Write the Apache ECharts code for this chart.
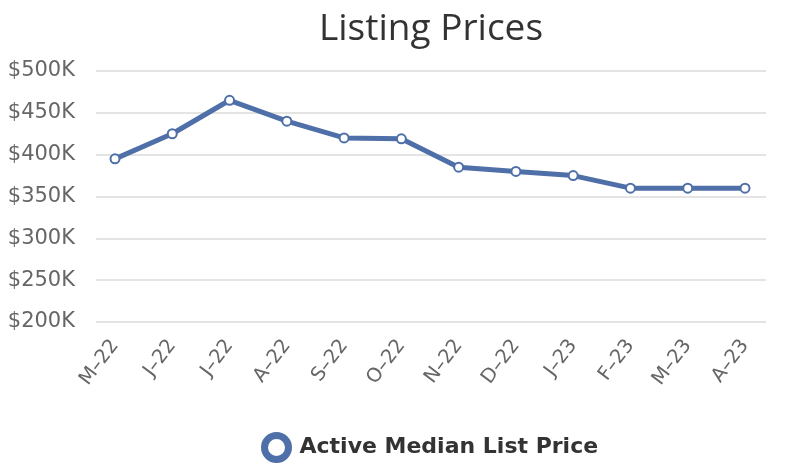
<!DOCTYPE html>
<html><head><meta charset="utf-8">
<script src="https://cdn.jsdelivr.net/npm/echarts@6/dist/echarts.min.js"></script>
<style>html,body{margin:0;padding:0;background:#fff}#c{width:788px;height:466px}</style>
</head><body><div id="c"></div>
<script>
const categories = ['M–22','J–22','J–22','A–22','S–22','O–22','N–22','D–22','J–23','F–23','M–23','A–23'];
const prices = [395000,425000,465000,440000,420000,419000,385000,380000,375000,360000,360000,360000];
const seriesName = 'Active Median List Price';
const yMin = 200000, yMax = 500000, yStep = 50000;
const lineColor = '#4f6fa8';
const FONT = 'DejaVu Sans';

const chart = echarts.init(document.getElementById('c'));
chart.setOption({
  animation: false,
  textStyle: { fontFamily: FONT },
  title: {
    text: 'Listing Prices', left: 426, top: 6, textAlign: 'center',
    textStyle: { fontFamily: 'Open Sans', fontSize: 37, fontWeight: 'normal', color: '#333' }
  },
  legend: {
    top: 432, left: 261, padding: 0,
    itemWidth: 24, itemHeight: 24,
    data: [{ name: seriesName, icon: 'circle',
      itemStyle: { color: '#fff', borderColor: lineColor, borderWidth: 7 } }],
    textStyle: { fontFamily: FONT, fontSize: 22, fontWeight: 'bold', color: '#333', padding: [0, 0, 0, 6] }
  },
  grid: [
    { left: 96, right: 22, top: 71, bottom: 144 },
    { left: 115, right: 43, top: 71, bottom: 144 }
  ],
  xAxis: [
    { gridIndex: 0, type: 'category', data: categories, show: false },
    { gridIndex: 1, type: 'category', data: categories, boundaryGap: false,
      axisLine: { show: false }, axisTick: { show: false }, splitLine: { show: false },
      axisLabel: { rotate: 53, margin: 20, color: '#666', fontSize: 19.5, fontFamily: FONT, interval: 0 } }
  ],
  yAxis: [
    { gridIndex: 0, type: 'value', min: yMin, max: yMax, interval: yStep,
      axisLine: { show: false }, axisTick: { show: false },
      axisLabel: { margin: 21, color: '#666', fontSize: 21, fontFamily: FONT,
        formatter: v => '$' + (v / 1000) + 'K' },
      splitLine: { lineStyle: { color: '#e4e4e4', width: 2 } } },
    { gridIndex: 1, type: 'value', min: yMin, max: yMax, interval: yStep, show: false,
      splitLine: { show: false } }
  ],
  series: [{
    name: seriesName, type: 'line', xAxisIndex: 1, yAxisIndex: 1,
    data: prices, symbol: 'circle', symbolSize: 9,
    itemStyle: { color: '#fff', borderColor: lineColor, borderWidth: 2 },
    lineStyle: { color: lineColor, width: 5 }
  }]
});
</script></body></html>
